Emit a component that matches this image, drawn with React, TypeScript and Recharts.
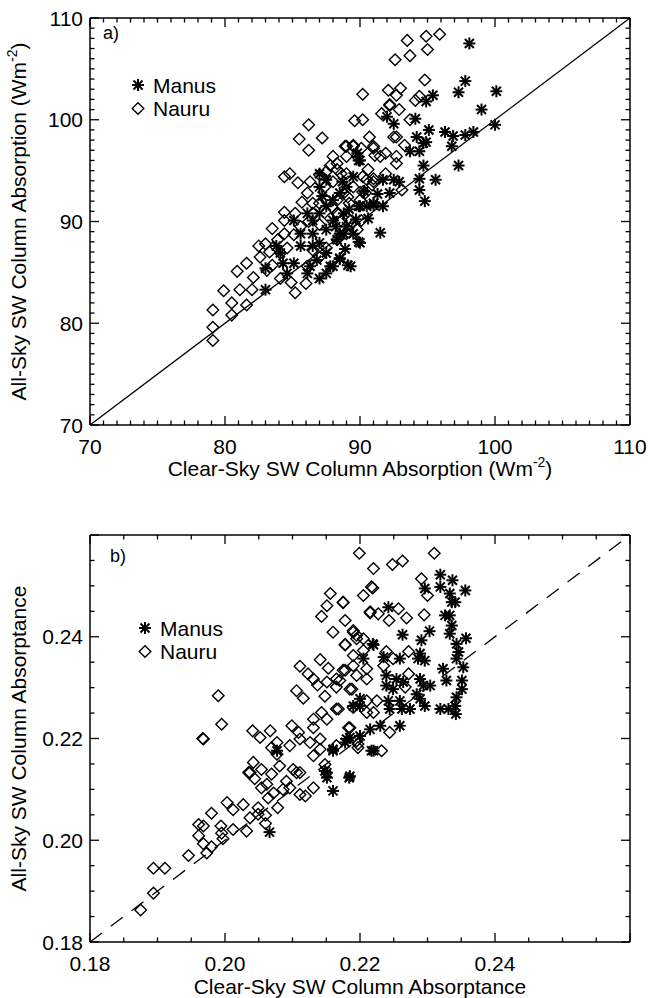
import * as React from "react";
import { ScatterChart, Scatter, XAxis, YAxis, ReferenceLine } from "recharts";

// panel a) absorption, W m-2
const manusA: [number, number][] = [
  [98.1, 107.5], [97.8, 103.8], [97.3, 102.7], [100.1, 102.8], [95.4, 102.4], [94.9, 101.8],
  [99.0, 101.0], [100.0, 99.5], [94.1, 100.1], [96.3, 98.8], [96.9, 98.4], [97.8, 98.5],
  [98.4, 98.8], [95.1, 99.0], [94.2, 98.3], [94.7, 97.7], [94.9, 97.8], [96.8, 97.4],
  [94.4, 96.9], [93.7, 96.9], [97.3, 95.5], [94.7, 95.5], [95.6, 94.1], [94.4, 94.2],
  [92.9, 93.9], [94.4, 93.1], [94.8, 92.0], [92.2, 92.8], [91.7, 91.5], [91.0, 91.6],
  [89.9, 91.5], [91.5, 88.9], [89.9, 88.0], [88.5, 86.4], [89.1, 85.7], [88.8, 88.8],
  [87.8, 85.6], [83.0, 83.3], [83.0, 85.4], [87.0, 94.7], [89.9, 96.0], [89.3, 85.6],
  [88.5, 86.3], [87.0, 84.4], [87.5, 84.9], [88.0, 85.6], [90.0, 87.9], [88.3, 88.2],
  [85.6, 88.8], [86.5, 87.6], [86.3, 85.6], [87.0, 87.9], [87.5, 89.2], [88.0, 90.1],
  [88.8, 90.8], [87.0, 93.4], [87.5, 94.1], [90.0, 91.5], [90.5, 91.5], [91.0, 91.8],
  [91.7, 94.1], [92.5, 94.1], [92.5, 99.6], [92.0, 100.3], [90.0, 96.0], [84.1, 86.9],
  [83.8, 87.6], [84.3, 85.9], [85.1, 85.9], [84.6, 84.9], [86.1, 84.9], [85.6, 87.6],
  [85.1, 90.1], [86.1, 90.8], [86.5, 90.1], [87.0, 90.8], [87.5, 91.5], [88.0, 92.1],
  [88.5, 92.8], [89.0, 93.4], [89.5, 94.4], [88.5, 88.8], [89.0, 89.5], [89.5, 88.8],
  [86.5, 88.8], [87.5, 86.9], [89.8, 96.7], [88.2, 89.5], [89.2, 91.2], [90.3, 93.0],
  [88.7, 93.9], [87.2, 92.5], [89.7, 90.2], [86.8, 86.2], [88.9, 87.3], [90.6, 90.3],
  [91.3, 92.7],
];

const nauruA: [number, number][] = [
  [95.9, 108.4], [94.9, 108.2], [93.5, 107.8], [95.0, 106.9], [93.7, 106.3], [92.6, 105.9],
  [94.8, 103.9], [90.2, 102.5], [92.1, 102.9], [93.0, 103.1], [92.7, 102.4], [94.4, 102.3],
  [94.1, 101.9], [92.2, 101.5], [92.9, 101.0], [91.6, 100.6], [89.6, 99.9], [90.2, 100.0],
  [93.7, 100.0], [90.7, 98.3], [92.7, 98.3], [88.9, 97.4], [89.5, 97.4], [90.1, 97.2],
  [91.0, 97.4], [91.1, 96.5], [91.9, 96.7], [92.7, 95.7], [93.3, 97.5], [91.9, 94.7],
  [91.0, 94.2], [88.3, 95.1], [90.2, 94.4], [90.9, 93.6], [93.1, 93.1], [90.2, 92.9],
  [89.1, 92.4], [89.3, 90.1], [88.3, 90.8], [89.0, 88.8], [88.3, 88.2], [86.2, 99.5],
  [85.5, 98.1], [86.2, 97.0], [87.2, 98.2], [84.4, 94.4], [84.8, 94.7], [85.4, 93.8],
  [86.3, 93.9], [85.7, 91.9], [86.1, 92.8], [84.4, 90.9], [84.4, 90.1], [85.2, 90.8],
  [83.5, 89.3], [82.5, 87.6], [83.0, 87.8], [81.6, 85.9], [80.9, 85.1], [82.1, 84.5],
  [79.9, 83.2], [81.1, 83.3], [80.5, 82.0], [81.6, 81.8], [82.0, 83.3], [79.1, 81.3],
  [80.5, 80.8], [79.1, 79.6], [79.1, 78.3], [85.2, 83.0], [84.9, 84.0], [84.1, 84.4],
  [83.1, 85.2], [83.5, 85.7], [83.3, 87.0], [83.9, 88.2], [84.6, 87.4], [85.1, 88.7],
  [85.6, 89.5], [86.2, 90.0], [86.5, 90.8], [87.0, 91.8], [87.5, 92.1], [87.4, 93.4],
  [88.0, 93.9], [87.8, 95.5], [88.3, 95.7], [89.0, 97.4], [89.5, 97.5], [89.0, 96.4],
  [89.8, 96.4], [91.0, 97.2], [92.2, 101.4], [89.0, 94.7], [89.5, 93.4], [88.8, 92.8],
  [88.3, 92.1], [89.2, 91.8], [90.0, 92.1], [90.4, 92.8], [90.5, 94.1], [91.0, 93.9],
  [90.6, 95.1], [88.0, 91.3], [88.6, 90.1], [89.1, 90.3], [89.8, 89.2], [90.1, 90.1],
  [86.5, 87.2], [87.0, 86.5], [87.5, 87.4], [86.1, 85.6], [86.0, 83.9], [87.0, 89.7],
  [86.5, 91.8], [87.8, 90.3], [88.3, 90.8], [88.6, 94.7], [88.0, 96.4], [87.0, 94.6],
  [87.5, 94.9], [92.5, 98.3], [92.7, 96.4], [91.5, 96.4], [84.4, 88.8], [84.1, 86.9],
  [82.6, 86.5],
];

// panel b) absorptance
const manusB: [number, number][] = [
  [0.222, 0.2384], [0.2205, 0.2357], [0.2215, 0.2218], [0.222, 0.2176], [0.22, 0.2205],
  [0.218, 0.2199], [0.216, 0.2179], [0.2151, 0.2133], [0.2185, 0.2126], [0.219, 0.2264],
  [0.22, 0.2278], [0.2319, 0.2522], [0.2337, 0.2511], [0.2296, 0.2495], [0.2319, 0.2498],
  [0.2356, 0.2491], [0.2333, 0.2485], [0.2336, 0.2468], [0.2341, 0.2468], [0.2242, 0.2458],
  [0.2326, 0.2442], [0.2333, 0.2442], [0.2336, 0.2422], [0.2333, 0.2406], [0.2263, 0.2404],
  [0.2303, 0.2411], [0.2291, 0.2393], [0.2357, 0.2397], [0.2343, 0.2386], [0.2219, 0.2386],
  [0.2346, 0.237], [0.2343, 0.2357], [0.2286, 0.2357], [0.2296, 0.2353], [0.2289, 0.2367],
  [0.2259, 0.2357], [0.2235, 0.236], [0.2323, 0.2337], [0.2353, 0.234], [0.2328, 0.2314],
  [0.2351, 0.2314], [0.2351, 0.2297], [0.2343, 0.2281], [0.2341, 0.2264], [0.2319, 0.2258],
  [0.2331, 0.2258], [0.2342, 0.2248], [0.2289, 0.2317], [0.2294, 0.2304], [0.2304, 0.2304],
  [0.2289, 0.2278], [0.2296, 0.2264], [0.2284, 0.2287], [0.2239, 0.2324], [0.2254, 0.2317],
  [0.2239, 0.2304], [0.2249, 0.2297], [0.2264, 0.2311], [0.2242, 0.2274], [0.2259, 0.2274],
  [0.2244, 0.2258], [0.2262, 0.2258], [0.2274, 0.2258], [0.2259, 0.2225], [0.223, 0.2225],
  [0.2185, 0.2202], [0.2178, 0.2192], [0.2217, 0.2176], [0.22, 0.2264], [0.2066, 0.2016],
  [0.2151, 0.2123], [0.216, 0.2097], [0.2184, 0.2123], [0.2148, 0.2136], [0.216, 0.2176],
  [0.2077, 0.2176],
];

const nauruB: [number, number][] = [
  [0.2199, 0.2564], [0.222, 0.2534], [0.2219, 0.2496], [0.2205, 0.2481], [0.2215, 0.2449],
  [0.2156, 0.2485], [0.2151, 0.2461], [0.2143, 0.244], [0.2175, 0.2468], [0.2178, 0.2432],
  [0.216, 0.2409], [0.219, 0.2409], [0.2195, 0.2396], [0.2178, 0.2384], [0.2141, 0.2355],
  [0.2153, 0.2338], [0.2111, 0.2342], [0.2123, 0.2327], [0.2131, 0.2317], [0.2137, 0.2305],
  [0.2151, 0.2311], [0.2178, 0.2334], [0.217, 0.2314], [0.2165, 0.2301], [0.2106, 0.2294],
  [0.2116, 0.2279], [0.2148, 0.2283], [0.2185, 0.2297], [0.219, 0.2343], [0.2195, 0.2324],
  [0.221, 0.2317], [0.199, 0.2284], [0.1995, 0.2228], [0.1967, 0.22], [0.2041, 0.2215],
  [0.2042, 0.2153], [0.2052, 0.2202], [0.2067, 0.2215], [0.2077, 0.2192], [0.2069, 0.2182],
  [0.2077, 0.2169], [0.2081, 0.2146], [0.2096, 0.2186], [0.2099, 0.2225], [0.2109, 0.2212],
  [0.2111, 0.2199], [0.2126, 0.2192], [0.2131, 0.2221], [0.2131, 0.2238], [0.2143, 0.2251],
  [0.2151, 0.2238], [0.2168, 0.2258], [0.2141, 0.2199], [0.2141, 0.2179], [0.2131, 0.2166],
  [0.2165, 0.2186], [0.2183, 0.2221], [0.2195, 0.2195], [0.2197, 0.2182], [0.2037, 0.2133],
  [0.2054, 0.2139], [0.2101, 0.2139], [0.2111, 0.2133], [0.221, 0.2274], [0.222, 0.2251],
  [0.219, 0.2261], [0.2205, 0.2373], [0.231, 0.2564], [0.2248, 0.2542], [0.2263, 0.2549],
  [0.2291, 0.2514], [0.23, 0.2481], [0.2217, 0.2498], [0.2175, 0.2467], [0.2215, 0.2447],
  [0.2227, 0.2445], [0.2257, 0.2455], [0.2243, 0.2432], [0.2269, 0.2437], [0.2295, 0.2443],
  [0.219, 0.2412], [0.2195, 0.2403], [0.2178, 0.2385], [0.2205, 0.2396], [0.2239, 0.2371],
  [0.2272, 0.2371], [0.2249, 0.2357], [0.2235, 0.2343], [0.219, 0.2363], [0.221, 0.2337],
  [0.2175, 0.2334], [0.2165, 0.2317], [0.2188, 0.2297], [0.2272, 0.2327], [0.2267, 0.2301],
  [0.2225, 0.2274], [0.2165, 0.2258], [0.2185, 0.2221], [0.2244, 0.2212], [0.2197, 0.2189],
  [0.2232, 0.2176], [0.221, 0.2251], [0.1968, 0.2199], [0.2035, 0.2133], [0.2044, 0.2121],
  [0.2069, 0.213], [0.2054, 0.2103], [0.2062, 0.211], [0.2072, 0.2093], [0.2091, 0.2116],
  [0.2096, 0.2103], [0.2106, 0.2133], [0.2111, 0.209], [0.2119, 0.2087], [0.2086, 0.21],
  [0.2064, 0.2083], [0.2078, 0.2064], [0.2049, 0.2064], [0.2131, 0.2103], [0.2148, 0.2149],
  [0.2003, 0.2074], [0.2012, 0.206], [0.2027, 0.207], [0.198, 0.2053], [0.1961, 0.2031],
  [0.1968, 0.2028], [0.1994, 0.2028], [0.2012, 0.2021], [0.2032, 0.2018], [0.2037, 0.2044],
  [0.2049, 0.2051], [0.206, 0.2049], [0.206, 0.2033], [0.1995, 0.2014], [0.1997, 0.2003],
  [0.1961, 0.2009], [0.1968, 0.1993], [0.198, 0.1987], [0.1973, 0.1975], [0.1946, 0.197],
  [0.1894, 0.1945], [0.1911, 0.1945], [0.1894, 0.1896], [0.1875, 0.1863],
];

const aDomain = [70, 110];
const aLabels = [70, 80, 90, 100, 110];
const bDomain = [0.18, 0.26];
const bLabels = [0.18, 0.2, 0.22, 0.24];

const FONT = "'Liberation Sans', Arial, Helvetica, sans-serif";
const FS = 21;

const toPts = (arr: [number, number][]) => arr.map(([x, y]) => ({ x, y }));

const steps = (lo: number, hi: number, step: number) => {
  const out: number[] = [];
  const n = Math.round((hi - lo) / step);
  for (let i = 0; i <= n; i++) out.push(Math.round((lo + i * step) * 10000) / 10000);
  return out;
};

const Star = (props: any) => {
  const { cx, cy } = props;
  if (cx == null || cy == null) return null;
  const r = 6;
  const d = r * 0.75;
  return (
    <g stroke="#000" strokeWidth={2}>
      <line x1={cx - r} y1={cy} x2={cx + r} y2={cy} />
      <line x1={cx} y1={cy - r} x2={cx} y2={cy + r} />
      <line x1={cx - d} y1={cy - d} x2={cx + d} y2={cy + d} />
      <line x1={cx - d} y1={cy + d} x2={cx + d} y2={cy - d} />
    </g>
  );
};

const Diamond = (props: any) => {
  const { cx, cy } = props;
  if (cx == null || cy == null) return null;
  const r = 5.8;
  return (
    <polygon
      points={`${cx},${cy - r} ${cx + r},${cy} ${cx},${cy + r} ${cx - r},${cy}`}
      fill="none"
      stroke="#000"
      strokeWidth={1.4}
    />
  );
};

// inward IDL-style ticks, labels only on bottom/left
const makeTick = (
  side: "bottom" | "top" | "left" | "right",
  majors: number[],
  labels: number[],
  fmt: (v: number) => string
) => (props: any) => {
  const { x, y, payload } = props;
  const v = payload.value;
  const major = majors.some(m => Math.abs(m - v) < 1e-6);
  const len = major ? 9 : 4.5;
  const show = labels.some(m => Math.abs(m - v) < 1e-6);
  let line = null;
  let label = null;
  if (side === "bottom") {
    line = <line x1={x} y1={y} x2={x} y2={y - len} stroke="#000" strokeWidth={1.3} />;
    if (show)
      label = (
        <text x={x} y={y + 28.5} textAnchor="middle" fontSize={FS} fontFamily={FONT} fill="#000">
          {fmt(v)}
        </text>
      );
  } else if (side === "top") {
    line = <line x1={x} y1={y} x2={x} y2={y + len} stroke="#000" strokeWidth={1.3} />;
  } else if (side === "left") {
    line = <line x1={x} y1={y} x2={x + len} y2={y} stroke="#000" strokeWidth={1.3} />;
    if (show)
      label = (
        <text x={x - 7} y={y + 7.5} textAnchor="end" fontSize={FS} fontFamily={FONT} fill="#000">
          {fmt(v)}
        </text>
      );
  } else {
    line = <line x1={x} y1={y} x2={x - len} y2={y} stroke="#000" strokeWidth={1.3} />;
  }
  return (
    <g>
      {line}
      {label}
    </g>
  );
};

const Panel: React.FC<{
  top: number;
  height: number;
  marginTop: number;
  marginBottom: number;
  domain: number[];
  minorStep: number;
  majorStep: number;
  labels: number[];
  fmt: (v: number) => string;
  manus: [number, number][];
  nauru: [number, number][];
  dashed: boolean;
  children?: React.ReactNode;
}> = ({ top, height, marginTop, marginBottom, domain, minorStep, majorStep, labels, fmt, manus, nauru, dashed, children }) => {
  const ticks = steps(domain[0], domain[1], minorStep);
  const majors = steps(domain[0], domain[1], majorStep);
  const axisProps = {
    type: "number" as const,
    domain,
    ticks,
    interval: 0 as const,
    allowDataOverflow: true,
    tickLine: false,
    tickSize: 0,
    tickMargin: 0,
    axisLine: { stroke: "#000", strokeWidth: 1.5 },
  };
  return (
    <div style={{ position: "absolute", left: 0, top }}>
      <ScatterChart
        width={650}
        height={height}
        margin={{ top: marginTop, right: 10, bottom: marginBottom, left: 30 }}
        style={{ overflow: "visible" }}
      >
        <XAxis xAxisId="b" dataKey="x" orientation="bottom" height={50} {...axisProps}
          tick={makeTick("bottom", majors, labels, fmt)} />
        <XAxis xAxisId="t" dataKey="x" orientation="top" height={10} {...axisProps}
          tick={makeTick("top", majors, [], fmt)} />
        <YAxis yAxisId="l" dataKey="y" orientation="left" width={60} {...axisProps}
          tick={makeTick("left", majors, labels, fmt)} />
        <YAxis yAxisId="r" dataKey="y" orientation="right" width={10} {...axisProps}
          tick={makeTick("right", majors, [], fmt)} />
        <ReferenceLine
          xAxisId="b"
          yAxisId="l"
          segment={[{ x: domain[0], y: domain[0] }, { x: domain[1], y: domain[1] }]}
          stroke="#000"
          strokeWidth={1.3}
          strokeDasharray={dashed ? "15 11" : undefined}
          ifOverflow="visible"
        />
        <Scatter xAxisId="b" yAxisId="l" name="Nauru" data={toPts(nauru)} shape={Diamond} isAnimationActive={false} />
        <Scatter xAxisId="b" yAxisId="l" name="Manus" data={toPts(manus)} shape={Star} isAnimationActive={false} />
        {children}
      </ScatterChart>
    </div>
  );
};

const Legend2: React.FC<{ x: number; y: number }> = ({ x, y }) => (
  <g>
    <Star cx={x} cy={y} />
    <text x={x + 15} y={y + 7.5} fontSize={FS} fontFamily={FONT} fill="#000">Manus</text>
    <Diamond cx={x} cy={y + 23.5} />
    <text x={x + 15} y={y + 30.5} fontSize={FS} fontFamily={FONT} fill="#000">Nauru</text>
  </g>
);

export default function App() {
  return (
    <div style={{ position: "absolute", left: 0, top: 0, width: 650, height: 998, background: "#fff" }}>
      <Panel
        top={0}
        height={490}
        marginTop={8}
        marginBottom={15}
        domain={aDomain}
        minorStep={1}
        majorStep={10}
        labels={aLabels}
        fmt={v => String(v)}
        manus={manusA}
        nauru={nauruA}
        dashed={false}
      >
        <text x={103} y={39} fontSize={18} fontFamily={FONT} fill="#000">a)</text>
        <Legend2 x={138} y={85} />
        <text x={360} y={476} textAnchor="middle" fontSize={FS} fontFamily={FONT} fill="#000">
          Clear-Sky SW Column Absorption (Wm
          <tspan fontSize={14} dy={-9}>-2</tspan>
          <tspan dy={9}>)</tspan>
        </text>
        <text transform="translate(26,221.5) rotate(-90)" textAnchor="middle" fontSize={FS} fontFamily={FONT} fill="#000">
          All-Sky SW Column Absorption (Wm
          <tspan fontSize={14} dy={-9}>-2</tspan>
          <tspan dy={9}>)</tspan>
        </text>
      </Panel>
      <Panel
        top={490}
        height={508}
        marginTop={35}
        marginBottom={6}
        domain={bDomain}
        minorStep={0.005}
        majorStep={0.02}
        labels={bLabels}
        fmt={v => v.toFixed(2)}
        manus={manusB}
        nauru={nauruB}
        dashed={true}
      >
        <text x={110} y={72} fontSize={18} fontFamily={FONT} fill="#000">b)</text>
        <Legend2 x={145} y={138} />
        <text x={360} y={504} textAnchor="middle" fontSize={FS} fontFamily={FONT} fill="#000">
          Clear-Sky SW Column Absorptance
        </text>
        <text transform="translate(26,248.5) rotate(-90)" textAnchor="middle" fontSize={FS} fontFamily={FONT} fill="#000">
          All-Sky SW Column Absorptance
        </text>
      </Panel>
    </div>
  );
}
